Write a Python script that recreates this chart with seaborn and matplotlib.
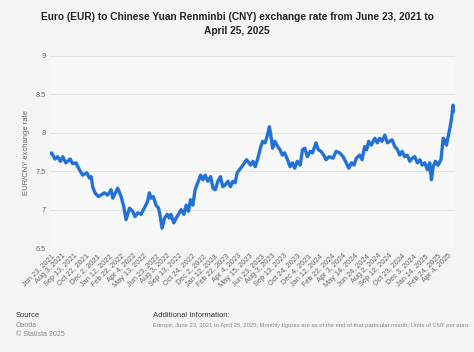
import pandas as pd
import matplotlib
matplotlib.use("Agg")
import matplotlib.pyplot as plt
import seaborn as sns

# values (EUR/CNY)
dates = ["2021-06-23", "2021-06-26", "2021-07-08", "2021-07-17", "2021-07-27", "2021-08-04",
         "2021-08-15", "2021-08-30", "2021-09-07", "2021-09-19", "2021-10-01", "2021-10-12",
         "2021-10-27", "2021-11-05", "2021-11-11", "2021-11-16", "2021-11-24", "2021-12-06",
         "2021-12-15", "2021-12-27", "2022-01-07", "2022-01-19", "2022-01-25", "2022-02-11",
         "2022-02-23", "2022-03-04", "2022-03-12", "2022-03-24", "2022-04-04", "2022-04-12",
         "2022-04-22", "2022-05-03", "2022-05-17", "2022-05-26", "2022-06-01", "2022-06-07",
         "2022-06-15", "2022-06-24", "2022-07-03", "2022-07-10", "2022-07-15", "2022-07-24",
         "2022-08-02", "2022-08-10", "2022-08-15", "2022-08-25", "2022-09-02", "2022-09-10",
         "2022-09-19", "2022-09-29", "2022-10-07", "2022-10-15", "2022-10-22", "2022-10-30",
         "2022-11-07", "2022-11-16", "2022-11-26", "2022-12-04", "2022-12-12", "2022-12-21",
         "2022-12-31", "2023-01-08", "2023-01-16", "2023-01-25", "2023-02-03", "2023-02-11",
         "2023-02-19", "2023-03-01", "2023-03-10", "2023-03-18", "2023-03-26", "2023-04-02",
         "2023-04-10", "2023-04-18", "2023-04-28", "2023-05-05", "2023-05-09", "2023-05-19",
         "2023-05-27", "2023-06-04", "2023-06-13", "2023-06-23", "2023-06-30", "2023-07-08",
         "2023-07-15", "2023-07-23", "2023-07-28", "2023-08-03", "2023-08-11", "2023-08-21",
         "2023-08-29", "2023-09-06", "2023-09-14", "2023-09-24", "2023-10-03", "2023-10-11",
         "2023-10-19", "2023-10-28", "2023-11-07", "2023-11-15", "2023-11-23", "2023-12-02",
         "2023-12-12", "2023-12-20", "2024-01-01", "2024-01-09", "2024-01-18", "2024-01-28",
         "2024-02-05", "2024-02-16", "2024-02-29", "2024-03-11", "2024-03-23", "2024-04-04",
         "2024-04-15", "2024-04-24", "2024-05-03", "2024-05-12", "2024-05-20", "2024-06-01",
         "2024-06-09", "2024-06-18", "2024-06-25", "2024-07-02", "2024-07-11", "2024-07-23",
         "2024-08-01", "2024-08-09", "2024-08-17", "2024-08-27", "2024-09-05", "2024-09-13",
         "2024-09-21", "2024-10-01", "2024-10-10", "2024-10-18", "2024-10-26", "2024-11-04",
         "2024-11-13", "2024-11-22", "2024-11-30", "2024-12-09", "2024-12-18", "2024-12-27",
         "2025-01-04", "2025-01-13", "2025-01-22", "2025-01-30", "2025-02-05", "2025-02-11",
         "2025-02-19", "2025-02-28", "2025-03-10", "2025-03-18", "2025-03-24", "2025-03-29",
         "2025-04-04", "2025-04-10", "2025-04-16", "2025-04-21", "2025-04-25"]
rates = [7.73, 7.74, 7.66, 7.69, 7.63, 7.69,
         7.61, 7.66, 7.60, 7.61, 7.52, 7.45,
         7.48, 7.41, 7.43, 7.30, 7.22, 7.17,
         7.19, 7.22, 7.19, 7.26, 7.15, 7.28,
         7.17, 7.04, 6.87, 7.02, 6.98, 6.91,
         6.96, 6.94, 7.04, 7.11, 7.22, 7.15,
         7.17, 7.06, 7.02, 6.89, 6.76, 6.89,
         6.94, 6.89, 6.94, 6.83, 6.89, 6.94,
         7.00, 6.94, 7.06, 6.98, 7.13, 7.06,
         7.26, 7.35, 7.45, 7.39, 7.45, 7.37,
         7.43, 7.28, 7.26, 7.37, 7.43, 7.30,
         7.32, 7.37, 7.30, 7.37, 7.35, 7.48,
         7.52, 7.56, 7.61, 7.65, 7.63, 7.58,
         7.63, 7.56, 7.67, 7.82, 7.89, 7.87,
         7.95, 8.08, 7.97, 7.80, 7.89, 7.82,
         7.78, 7.71, 7.74, 7.65, 7.56, 7.61,
         7.54, 7.63, 7.58, 7.78, 7.80, 7.69,
         7.76, 7.74, 7.87, 7.78, 7.76, 7.71,
         7.65, 7.69, 7.67, 7.76, 7.74, 7.69,
         7.61, 7.54, 7.61, 7.58, 7.67, 7.71,
         7.65, 7.82, 7.78, 7.89, 7.84, 7.93,
         7.87, 7.93, 7.89, 7.97, 7.87, 7.89,
         7.91, 7.82, 7.78, 7.71, 7.76, 7.69,
         7.71, 7.63, 7.67, 7.69, 7.61, 7.65,
         7.58, 7.61, 7.52, 7.61, 7.39, 7.56,
         7.63, 7.58, 7.65, 7.93, 7.90, 7.84,
         7.95, 8.06, 8.19, 8.36, 8.28]

tick_dates = ["2021-06-23", "2021-08-03", "2021-09-13", "2021-10-22", "2021-12-02", "2022-01-12",
              "2022-02-22", "2022-04-04", "2022-05-13", "2022-06-23", "2022-08-03", "2022-09-13",
              "2022-10-24", "2022-12-02", "2023-01-12", "2023-02-22", "2023-04-04", "2023-05-15",
              "2023-06-23", "2023-08-03", "2023-09-13", "2023-10-24", "2023-12-04", "2024-01-12",
              "2024-02-22", "2024-04-03", "2024-05-14", "2024-06-24", "2024-08-02", "2024-09-12",
              "2024-10-23", "2024-12-03", "2025-01-14", "2025-02-24", "2025-04-04"]
y_ticks = [6.5, 7, 7.5, 8, 8.5, 9]

df = pd.DataFrame({"date": pd.to_datetime(dates), "rate": rates})

sns.set_style("white")
plt.rcParams["font.family"] = ["Liberation Sans", "DejaVu Sans"]

fig = plt.figure(figsize=(4.74, 3.52), dpi=100, facecolor="#f4f4f4")
ax = fig.add_axes([0.105, 0.295, 0.855, 0.546], facecolor="#f8f8f8")

sns.lineplot(data=df, x="date", y="rate", ax=ax, color="#2271d6", linewidth=2.4)

ax.set_ylim(6.5, 9)
ax.set_yticks(y_ticks)
ax.set_yticklabels([f"{v:g}" for v in y_ticks])
ax.set_xlim(pd.Timestamp("2021-06-20"), pd.Timestamp("2025-04-28"))
ticks = pd.to_datetime(tick_dates)
ax.set_xticks(ticks)
ax.set_xticklabels([d.strftime("%b ") + str(d.day) + d.strftime(", %Y") for d in ticks],
                   rotation=45, ha="right", rotation_mode="anchor")
ax.tick_params(axis="both", labelsize=5.3, colors="#666666", length=0, pad=3)
ax.grid(axis="y", color="#e2e2e2", linewidth=0.8)
for s in ax.spines.values():
    s.set_visible(False)
ax.set_xlabel("")
ax.set_ylabel("EUR/CNY exchange rate", fontsize=5.5, color="#666666")

fig.text(0.5, 0.966, "Euro (EUR) to Chinese Yuan Renminbi (CNY) exchange rate from June 23, 2021 to\nApril 25, 2025",
         ha="center", va="top", fontsize=7.3, fontweight="bold", color="#222222", linespacing=1.55)

fig.text(0.034, 0.1, "Source", fontsize=5.5, color="#333333")
fig.text(0.034, 0.072, "Oanda", fontsize=5, color="#888888")
fig.text(0.034, 0.045, "© Statista 2025", fontsize=5, color="#888888")
fig.text(0.323, 0.1, "Additional Information:", fontsize=5.5, color="#333333")
fig.text(0.323, 0.072, "Europe; June 23, 2021 to April 25, 2025; Monthly figures are as of the end of that particular month; Units of CNY per euro",
         fontsize=4.2, color="#888888")

fig.savefig("out.png", dpi=100, facecolor=fig.get_facecolor())
